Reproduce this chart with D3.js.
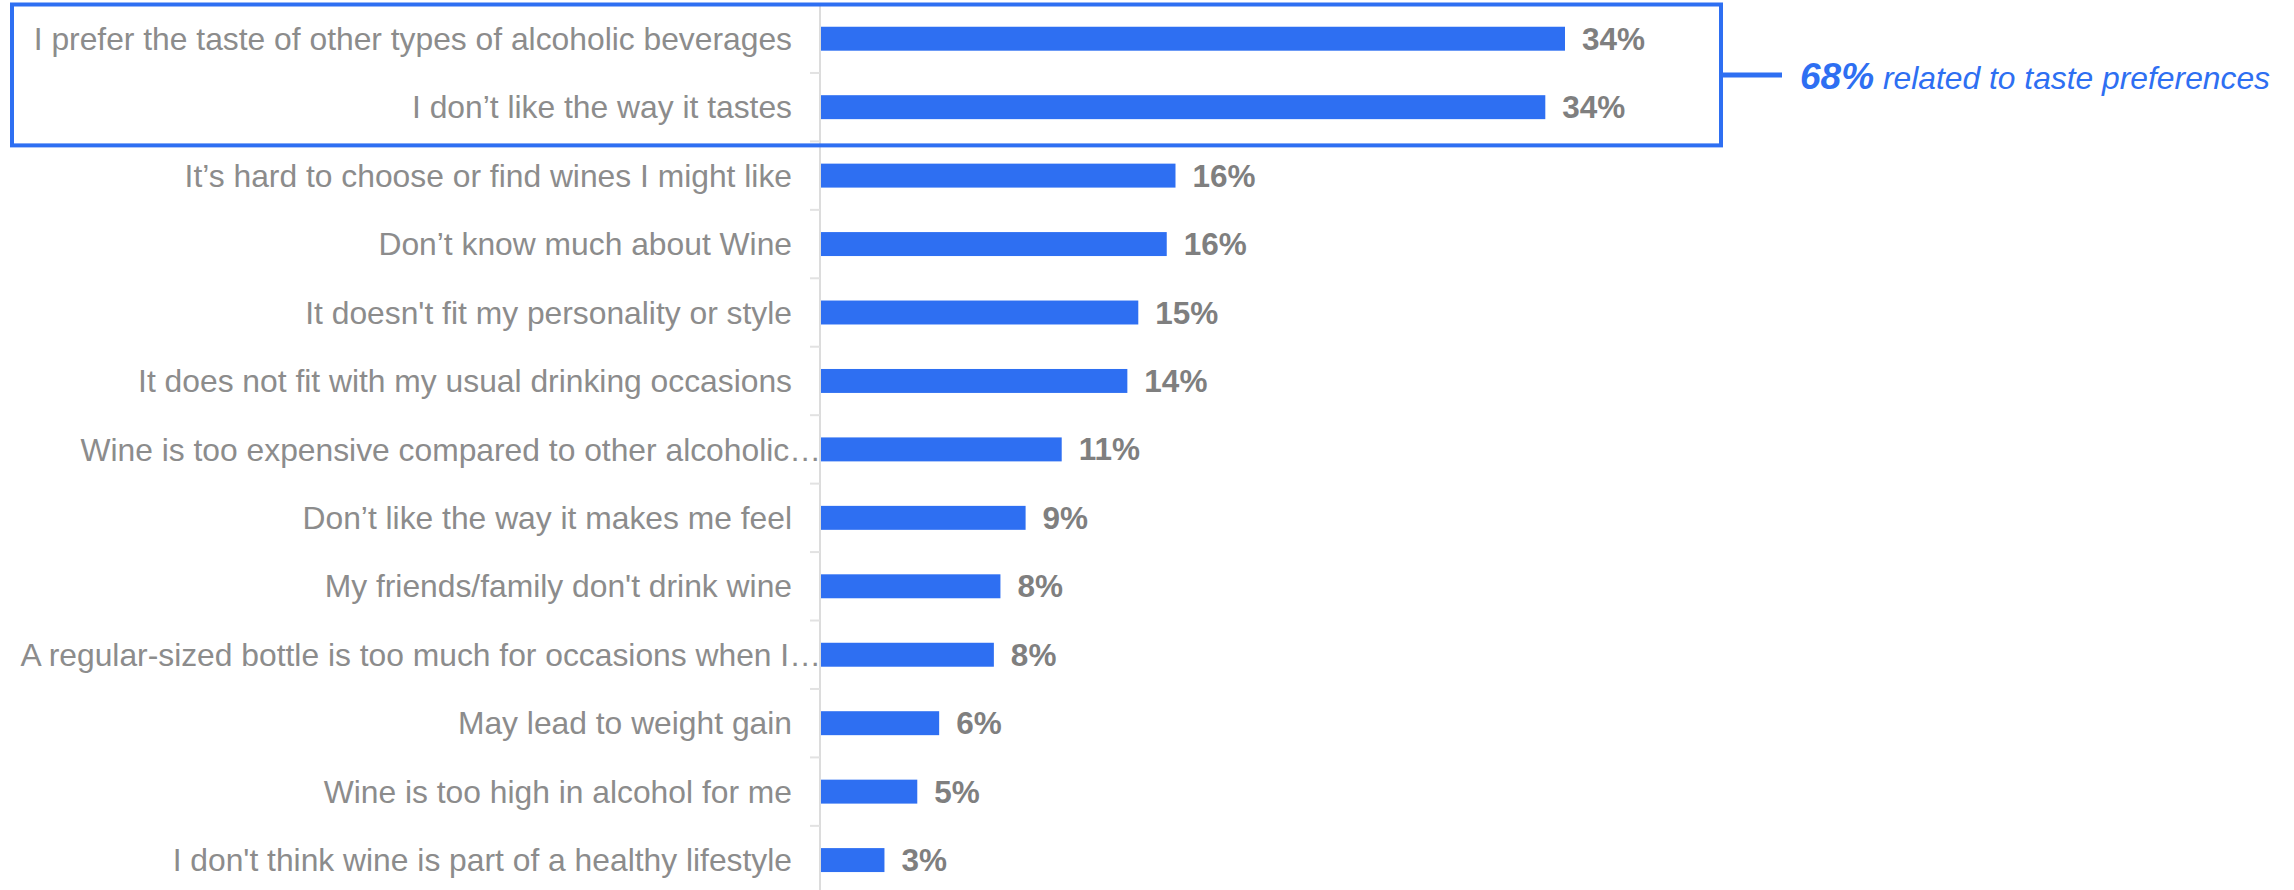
<!DOCTYPE html>
<html>
<head>
<meta charset="utf-8">
<script src="https://cdn.jsdelivr.net/npm/d3@7"></script>
<style>
  body { margin: 0; background: #fff; }
  svg { display: block; font-family: "Liberation Sans", Arial, sans-serif; }
</style>
</head>
<body>
<svg id="chart"></svg>
<script>
// reasons for not drinking wine
const categories = [
  "I prefer the taste of other types of alcoholic beverages",
  "I don\u2019t like the way it tastes",
  "It\u2019s hard to choose or find wines I might like",
  "Don\u2019t know much about Wine",
  "It doesn't fit my personality or style",
  "It does not fit with my usual drinking occasions",
  "Wine is too expensive compared to other alcoholic\u2026",
  "Don\u2019t like the way it makes me feel",
  "My friends/family don't drink wine",
  "A regular-sized bottle is too much for occasions when I\u2026",
  "May lead to weight gain",
  "Wine is too high in alcohol for me",
  "I don't think wine is part of a healthy lifestyle"
];
const values = [34.0, 33.1, 16.2, 15.8, 14.5, 14.0, 11.0, 9.35, 8.2, 7.9, 5.4, 4.4, 2.9];
const valueLabels = ["34%", "34%", "16%", "16%", "15%", "14%", "11%", "9%", "8%", "8%", "6%", "5%", "3%"];
const highlighted = categories.slice(0, 2);
const annotationBold = "68%";
const annotationText = " related to taste preferences";

const width = 2294, height = 890;
const blue = "#2e6ff2";

const svg = d3.select("#chart")
    .attr("width", width)
    .attr("height", height);

const axisX = 821;

const x = d3.scaleLinear()
    .domain([0, 34])
    .range([axisX, axisX + 744]);

const y = d3.scaleBand()
    .domain(categories)
    .range([4.5, 894.3])
    .paddingInner(0.65)
    .paddingOuter(0.325);

const step = y.step();

// axis line + little ticks between rows
svg.append("line")
    .attr("x1", axisX - 1).attr("x2", axisX - 1)
    .attr("y1", 6).attr("y2", height)
    .attr("stroke", "#dcdcdc")
    .attr("stroke-width", 2);

svg.selectAll(".tick")
    .data(categories.slice(1))
  .enter().append("line")
    .attr("class", "tick")
    .attr("x1", axisX - 11).attr("x2", axisX - 1)
    .attr("y1", d => y(d) - (step - y.bandwidth()) / 2)
    .attr("y2", d => y(d) - (step - y.bandwidth()) / 2)
    .attr("stroke", "#e2e2e2")
    .attr("stroke-width", 2);

// bars
svg.selectAll(".bar")
    .data(categories)
  .enter().append("rect")
    .attr("class", "bar")
    .attr("x", x(0))
    .attr("y", d => y(d))
    .attr("width", (d, i) => x(values[i]) - x(0))
    .attr("height", y.bandwidth())
    .attr("fill", blue);

// category labels (truncated ones run up to the axis)
svg.selectAll(".cat")
    .data(categories)
  .enter().append("text")
    .attr("class", "cat")
    .attr("x", d => d.endsWith("\u2026") ? axisX : axisX - 29)
    .attr("y", d => y(d) + y.bandwidth() / 2)
    .attr("dy", "0.35em")
    .attr("text-anchor", "end")
    .attr("font-size", 31.8)
    .attr("fill", "#8c8c8c")
    .text(d => d);

// value labels
svg.selectAll(".val")
    .data(categories)
  .enter().append("text")
    .attr("class", "val")
    .attr("x", (d, i) => x(values[i]) + 17)
    .attr("y", d => y(d) + y.bandwidth() / 2)
    .attr("dy", "0.35em")
    .attr("font-size", 31.5)
    .attr("font-weight", "bold")
    .attr("fill", "#7f7f7f")
    .text((d, i) => valueLabels[i]);

// highlight box round the taste rows
const boxTop = 4.5, boxBottom = y(highlighted[1]) + step - (step - y.bandwidth()) / 2 + 4;
svg.append("rect")
    .attr("x", 12)
    .attr("y", boxTop)
    .attr("width", 1721 - 12)
    .attr("height", boxBottom - boxTop)
    .attr("fill", "none")
    .attr("stroke", blue)
    .attr("stroke-width", 4);

const midY = (boxTop + boxBottom) / 2;
svg.append("line")
    .attr("x1", 1721).attr("x2", 1782)
    .attr("y1", midY).attr("y2", midY)
    .attr("stroke", blue)
    .attr("stroke-width", 5);

const note = svg.append("text")
    .attr("x", 1800)
    .attr("y", midY + 14)
    .attr("font-style", "italic")
    .attr("fill", blue);
note.append("tspan").attr("font-weight", "bold").attr("font-size", 37).text(annotationBold);
note.append("tspan").attr("font-size", 31.8).text(annotationText);
</script>
</body>
</html>
